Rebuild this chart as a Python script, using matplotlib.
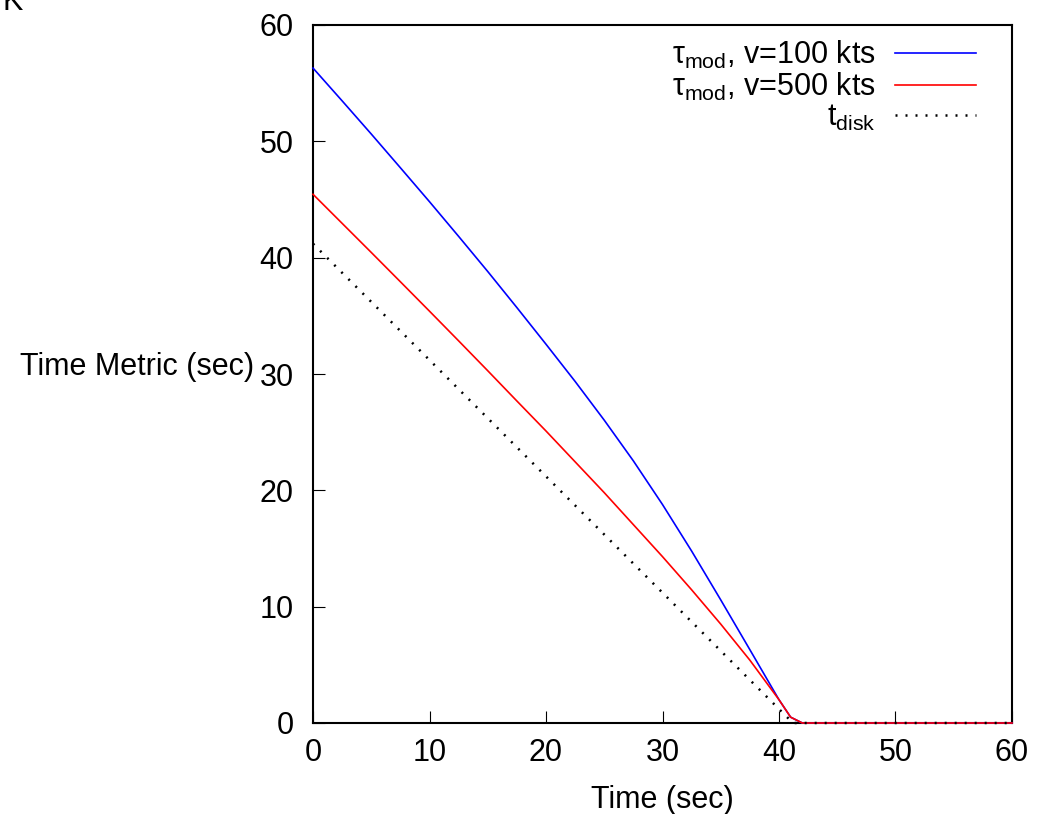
import matplotlib
matplotlib.use("Agg")
import matplotlib.pyplot as plt

plt.rcParams['font.family'] = ['Liberation Sans', 'DejaVu Sans']
plt.rcParams['mathtext.fontset'] = 'custom'
plt.rcParams['mathtext.rm'] = 'Liberation Sans'
plt.rcParams['mathtext.it'] = 'Liberation Sans'

# valores
t = [0, 2.5, 5, 7.5, 10, 12.5, 15, 17.5, 20, 22.5, 25, 27.5, 30, 32.5, 35, 37.5, 40, 41, 42, 60]
tau_100 = [56.3, 53.48, 50.63, 47.73, 44.81, 41.83, 38.81, 35.71, 32.56, 29.36, 26.03, 22.53,
           18.78, 14.78, 10.58, 6.3, 2.0, 0.5, 0.0, 0.0]
tau_500 = [45.45, 42.95, 40.45, 37.93, 35.4, 32.85, 30.28, 27.68, 25.1, 22.45, 19.8, 17.05,
           14.3, 11.45, 8.5, 5.4, 2.0, 0.5, 0.0, 0.0]

t_disk_x = [0, 41.2, 60]
t_disk = [41.2, 0.0, 0.0]

labels = [r'$\tau_{\rm mod}$, v=100 kts', r'$\tau_{\rm mod}$, v=500 kts', r'$t_{\rm disk}$']

fig = plt.figure(figsize=(10.45, 8.14), dpi=100)
ax = fig.add_axes([313/1045, 91/814, 699/1045, 698/814])

ax.plot(t, tau_100, color='#0000ff', lw=1.2, label=labels[0], clip_on=False, zorder=3)
ax.plot(t, tau_500, color='#ff0000', lw=1.2, label=labels[1], clip_on=False, zorder=3)
ax.plot(t_disk_x, t_disk, color='black', lw=1.8, ls=(0, (0.8, 3.2)), label=labels[2],
        clip_on=False, zorder=3)

ax.set_xlim(0, 60)
ax.set_ylim(0, 60)
ax.set_xticks(range(0, 61, 10))
ax.set_yticks(range(0, 61, 10))
ax.tick_params(direction='in', length=8.5, width=0.8, labelsize=22, top=False, right=False)
ax.tick_params(axis='x', pad=11)
ax.tick_params(axis='y', pad=14)
for s in ax.spines.values():
    s.set_linewidth(1.5)

ax.set_xlabel('Time (sec)', fontsize=22, labelpad=12)
ax.set_ylabel('Time Metric (sec)', fontsize=22, rotation=0, ha='right', va='center')
ax.yaxis.set_label_coords(-0.084, 0.51)

leg = ax.legend(loc='upper right', frameon=False, markerfirst=False, fontsize=22,
                handlelength=2.65, handletextpad=0.62, labelspacing=0.0,
                bbox_to_anchor=(0.948, 0.98), borderaxespad=0, borderpad=0)

fig.text(0.002, 1 - 10/814, 'K', fontsize=22, va='baseline', ha='left')

fig.savefig('out.png', dpi=100)
